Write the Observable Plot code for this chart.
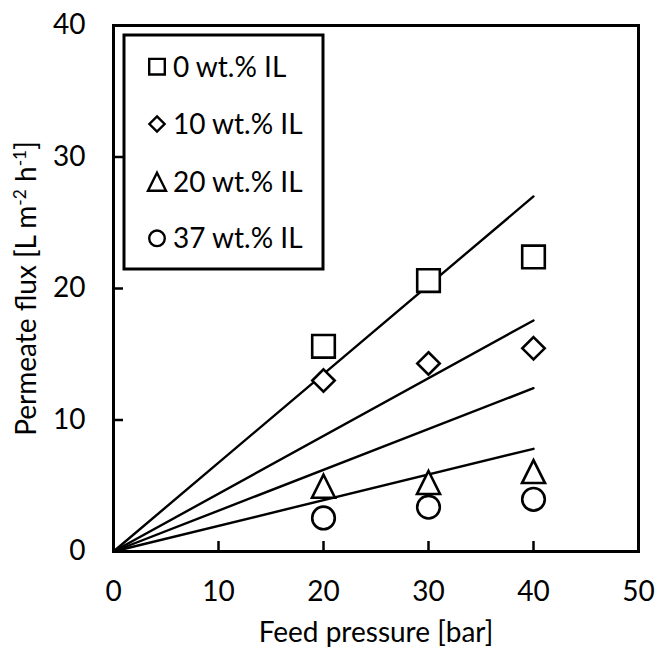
<!DOCTYPE html>
<html>
<head>
<meta charset="utf-8">
<script src="https://cdn.jsdelivr.net/npm/d3@7"></script>
<script src="https://cdn.jsdelivr.net/npm/@observablehq/plot@0.6"></script>
<style>
  html, body { margin: 0; padding: 0; background: #fff; }
  #wrap { position: relative; width: 657px; height: 655px; }
  #wrap svg { position: absolute; left: 0; top: 0; }
</style>
</head>
<body>
<div id="wrap"></div>
<script>
// ---- data ----
const pressure = [20, 30, 40];
const seriesNames = ["0 wt.% IL", "10 wt.% IL", "20 wt.% IL", "37 wt.% IL"];
const flux0  = [15.6, 20.6, 22.4];
const flux10 = [13.0, 14.3, 15.45];
const flux20 = [4.96, 5.25, 6.08];
const flux37 = [2.55, 3.37, 3.97];
const fitPressure = [0, 40];
const fit0  = [0, 27.0];
const fit10 = [0, 17.57];
const fit20 = [0, 12.42];
const fit37 = [0, 7.81];
const xTicks = [0, 10, 20, 30, 40, 50];
const yTicks = [0, 10, 20, 30, 40];
const xInnerTicks = [10, 20, 30, 40];
const yInnerTicks = [10, 20, 30];
const xLabel = "Feed pressure [bar]";
const yLabel = "Permeate flux [L m-2 h-1]";

// ---- symbols ----
const sym = {
  square:   {draw(c, s) { const r = Math.sqrt(s / Math.PI); c.moveTo(-r, -r); c.lineTo(r, -r); c.lineTo(r, r); c.lineTo(-r, r); c.closePath(); }},
  diamond:  {draw(c, s) { const r = Math.sqrt(s / Math.PI); c.moveTo(0, -r); c.lineTo(r, 0); c.lineTo(0, r); c.lineTo(-r, 0); c.closePath(); }},
  triangle: {draw(c, s) { const r = Math.sqrt(s / Math.PI); c.moveTo(0, -r); c.lineTo(r, r); c.lineTo(-r, r); c.closePath(); }},
  circle:   {draw(c, s) { const r = Math.sqrt(s / Math.PI); c.moveTo(r, 0); c.arc(0, 0, r, 0, 2 * Math.PI); c.closePath(); }}
};
const symbols = [sym.square, sym.diamond, sym.triangle, sym.circle];
const plotR = [11.3, 11.2, 11.5, 11.3];
const legendR = [7.8, 7.6, 9, 7.8];

const rows = (xs, ys) => xs.map((p, i) => ({p, f: ys[i]}));
const series = [flux0, flux10, flux20, flux37];
const fits = [fit0, fit10, fit20, fit37];

const FONT = "Lato, 'Open Sans', sans-serif";
const FS = 28;

const chart = Plot.plot({
  width: 657,
  height: 655,
  marginLeft: 113,
  marginRight: 19,
  marginTop: 25,
  marginBottom: 104,
  style: {fontFamily: FONT, fontSize: FS + "px", color: "black", background: "white"},
  x: {domain: [0, 50], ticks: xTicks},
  y: {domain: [0, 40], ticks: yTicks},
  marks: [
    // fitted lines
    ...fits.map(f => Plot.line(rows(fitPressure, f), {x: "p", y: "f", stroke: "black", strokeWidth: 2.4})),
    // measured points
    ...series.map((s, i) => Plot.dot(rows(pressure, s), {
      x: "p", y: "f", symbol: symbols[i], r: plotR[i],
      fill: "white", stroke: "black", strokeWidth: 2.6
    })),
    // inward ticks
    Plot.axisX(xInnerTicks, {anchor: "bottom", tickSize: 10, dy: -10, tickFormat: () => "", label: null, strokeWidth: 2.5}),
    Plot.axisY(yInnerTicks, {anchor: "left", tickSize: 10, dx: 10, tickFormat: () => "", label: null, strokeWidth: 2.5}),
    // tick labels
    Plot.axisX(xTicks, {anchor: "bottom", tickSize: 0, tickPadding: 30, fontSize: FS, label: null}),
    Plot.axisY(yTicks, {anchor: "left", tickSize: 0, tickPadding: 28, fontSize: FS, label: null}),
    // axis titles
    Plot.text([xLabel], {frameAnchor: "bottom", dy: 90, fontSize: FS, fill: "black"}),
    Plot.text([yLabel], {frameAnchor: "left", textAnchor: "middle", rotate: -90, dx: -86, fontSize: FS, fill: "black"}),
    Plot.frame({stroke: "black", strokeWidth: 3})
  ]
});
document.getElementById("wrap").appendChild(chart);

// superscripts in the y title
d3.select(chart).selectAll("text").filter(function () { return this.textContent === yLabel; })
  .each(function () {
    const t = d3.select(this);
    t.text(null);
    const parts = [["Permeate flux [L m", false], ["-2", true], [" h", false], ["-1", true], ["]", false]];
    for (const [s, sup] of parts) {
      const ts = t.append("tspan").text(s);
      if (sup) ts.attr("baseline-shift", "super").attr("font-size", "0.62em");
    }
  });

// legend (drawn as an overlay in the same style)
const leg = d3.select("#wrap").append("svg")
  .attr("width", 657).attr("height", 655)
  .style("font-family", FONT).style("font-size", FS + "px");
leg.append("rect").attr("x", 124).attr("y", 35).attr("width", 199).attr("height", 234)
  .attr("fill", "white").attr("stroke", "black").attr("stroke-width", 3);
const rowY = [66.7, 124, 181.7, 238.3];
seriesNames.forEach((name, i) => {
  const r = legendR[i];
  leg.append("path")
    .attr("transform", `translate(157,${rowY[i]})`)
    .attr("d", d3.symbol(symbols[i], Math.PI * r * r)())
    .attr("fill", "white").attr("stroke", "black").attr("stroke-width", 2.4);
  leg.append("text").attr("x", 173).attr("y", rowY[i]).attr("dy", "0.35em")
    .attr("fill", "black").text(name);
});
</script>
</body>
</html>
